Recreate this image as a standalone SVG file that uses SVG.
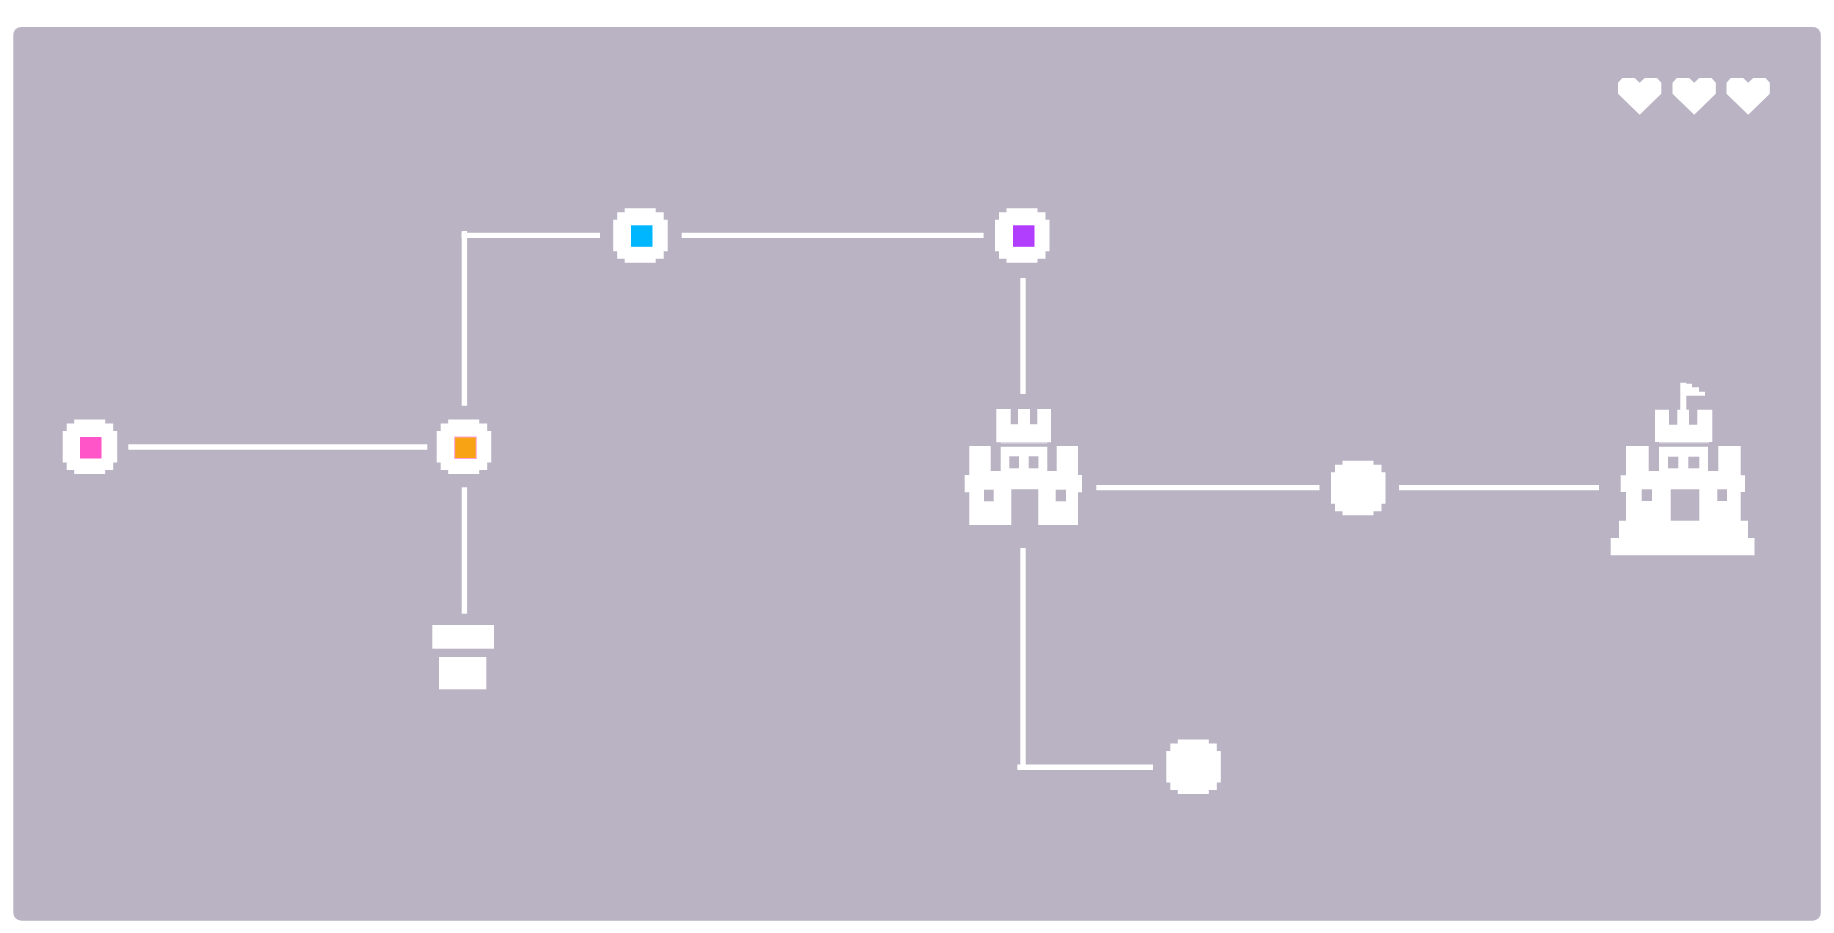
<svg xmlns="http://www.w3.org/2000/svg" xmlns:xlink="http://www.w3.org/1999/xlink" width="1834" height="933" viewBox="0 0 1834 933">
<style>
.w{fill:#fff}
.b{fill:#bab3c4}
.l{fill:none;stroke:#fff;stroke-width:5.4}
.e{stroke:#ffa0dc;stroke-width:1}
.p{fill:#fff;opacity:.45}
</style>
<defs>
<path id="dot" class="w" d="M-16-27.500H15V-23.500H23V-16H27V15.500H23V23H15V27H-16V23H-23.500V15.500H-27.500V-16H-23.500V-23.500H-16Z"/>
<path id="heart" class="w" d="M4.300 0H16.700L21.700 4.700L26.700 0H39L43.300 4.700V15.700L21.700 36.700L0 15.700V4.700Z"/>
</defs>
<rect id="panel" x="13.300" y="27" width="1807.500" height="893.700" rx="8" class="b"/>
<g id="connectors">
<path class="l" d="M128.300 447H427.300"/>
<path class="l" d="M464.400 405.700V231"/>
<path class="l" d="M461.700 235.400H600"/>
<path class="l" d="M681.700 235.400H983.600"/>
<path class="l" d="M464.400 487.300V613.700"/>
<path class="l" d="M1023 278V394"/>
<path class="l" d="M1096.300 487.600H1319.500"/>
<path class="l" d="M1399 487.600H1599"/>
<path class="l" d="M1023 548V767"/>
<path class="l" d="M1017.300 767.300H1153"/>
</g>
<g id="node-pink"><use href="#dot" x="90.200" y="447"/><rect x="80" y="437" width="21.500" height="21.500" fill="#ff55c8"/></g>
<g id="node-orange"><use href="#dot" x="464.200" y="447"/><rect x="454.700" y="437" width="21.500" height="21.500" fill="#f7a313" class="e"/></g>
<g id="node-blue"><use href="#dot" x="640.700" y="235.800"/><rect x="631" y="225.300" width="21.500" height="21.500" fill="#00b7ff"/></g>
<g id="node-purple"><use href="#dot" x="1022.500" y="235.800"/><rect x="1013" y="225.300" width="21.500" height="21.500" fill="#b13dff"/></g>
<g id="node-pipe"><rect class="w" x="432.300" y="625" width="61.700" height="23.700"/><rect class="w" x="439" y="657" width="47.300" height="32.300"/></g>
<g id="node-castle">
<path class="w" d="M996.300 409H1010.700V424.300H1018V409H1030V424.300H1037.300V409H1051V442.300H996.300Z"/>
<rect class="p" x="1000.700" y="442.300" width="46.600" height="1.400"/>
<path class="w" d="M969.300 446H990.700V471H1000.700V446.700H1047.300V471H1056.700V446H1078V475H1082V492.300H1078V525H1038.300V489.300H1011.300V525H969.300V492.300H964.700V475H969.300Z"/>
<rect class="b" x="1009.300" y="456.300" width="9.700" height="12"/><rect class="b" x="1028.700" y="456.300" width="9.700" height="12"/>
<rect class="b" x="984" y="489.700" width="9.700" height="11.600"/><rect class="b" x="1055.700" y="489.700" width="10.300" height="11.600"/>
</g>
<g id="node-mid"><use href="#dot" x="1358.500" y="488.300"/></g>
<g id="node-end"><use href="#dot" x="1193.800" y="767"/></g>
<g id="node-fortress">
<path class="w" d="M1680.300 382.700H1686.300V383.700H1692V387.300H1699V391.700H1705V395.700H1686.300V409.700H1689V424.700H1697.300V409.700H1712.300V442H1655V409.700H1669V424.700H1677.300V409.700H1680.300Z"/>
<rect class="p" x="1659" y="442" width="50" height="1.400"/>
<path class="w" d="M1626 446H1648.700V471H1659V446.700H1708V471H1718.300V446H1740.700V475.300H1745V492H1740.700V520.700H1748V538H1754.500V555.300H1610.700V538H1619V520.700H1626V492H1620.700V475.300H1626Z"/>
<rect class="b" x="1668" y="456.700" width="10.300" height="11.600"/><rect class="b" x="1688.300" y="456.700" width="11" height="11.600"/>
<rect class="b" x="1641.700" y="489.300" width="10.300" height="11.700"/><rect class="b" x="1717.300" y="489.300" width="9.700" height="11.700"/>
<rect class="b" x="1670.700" y="489.300" width="28.600" height="31.400"/>
</g>
<g id="lives"><use href="#heart" x="1618" y="78"/><use href="#heart" x="1672.500" y="78"/><use href="#heart" x="1726.500" y="78"/></g>
</svg>
